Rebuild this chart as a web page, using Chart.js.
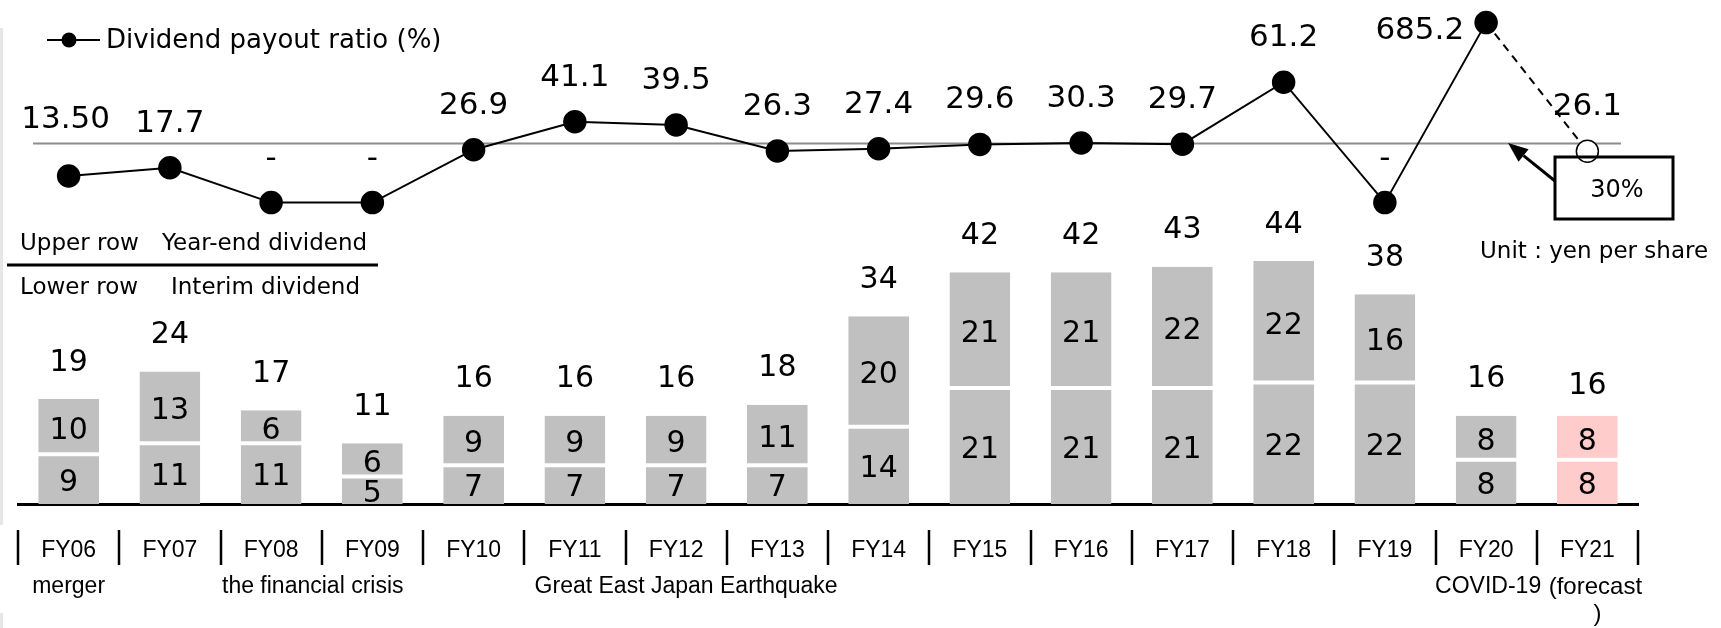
<!DOCTYPE html>
<html>
<head>
<meta charset="utf-8">
<script src="https://cdn.jsdelivr.net/npm/chart.js@4.4.0/dist/chart.umd.min.js"></script>
<style>
  html, body { margin: 0; padding: 0; background: #fff; }
</style>
</head>
<body>
<canvas id="chart" width="1721" height="628"></canvas>
<script>
const categories = ["FY06", "FY07", "FY08", "FY09", "FY10", "FY11", "FY12", "FY13",
  "FY14", "FY15", "FY16", "FY17", "FY18", "FY19", "FY20", "FY21"];
const interimDividend = [9, 11, 11, 5, 7, 7, 7, 7, 14, 21, 21, 21, 22, 22, 8, 8];
const yearEndDividend = [10, 13, 6, 6, 9, 9, 9, 11, 20, 21, 21, 22, 22, 16, 8, 8];
// null = no payout ratio ("-")
const payoutRatio = [13.5, 17.7, null, null, 26.9, 41.1, 39.5, 26.3, 27.4, 29.6, 30.3, 29.7, 61.2, null, 685.2, 26.1];
const payoutLabels = ["13.50", "17.7", "-", "-", "26.9", "41.1", "39.5", "26.3", "27.4", "29.6", "30.3", "29.7", "61.2", "-", "685.2", "26.1"];
const targetRatio = 30;
const ratioAxisBreak = 91.5; // broken axis: bigger values are drawn at this level

const GREY = "#c0c0c0";
const PINK = "#ffcccc";
const NUM_FONT = "DejaVu Sans";
const LABEL_FONT = "Liberation Sans";
const last = categories.length - 1;

const barColors = categories.map((c, i) => (i === last ? PINK : GREY));
const ratioPlot = payoutRatio.map(v => (v === null ? 0 : Math.min(v, ratioAxisBreak)));

const decorations = {
  id: "decorations",
  beforeDatasetsDraw(chart) {
    const ctx = chart.ctx;
    const yl = chart.scales.yLine;
    ctx.save();
    // faint slide edge
    ctx.fillStyle = "#e6e6e6";
    ctx.fillRect(0, 28, 3, 497);
    ctx.fillRect(0, 613, 3, 15);
    // 30% guide line
    const y30 = yl.getPixelForValue(targetRatio);
    ctx.strokeStyle = "#8c8c8c";
    ctx.lineWidth = 2;
    ctx.beginPath();
    ctx.moveTo(33, y30);
    ctx.lineTo(1621, y30);
    ctx.stroke();
    ctx.restore();
  },
  afterDatasetsDraw(chart) {
    const ctx = chart.ctx;
    const xs = chart.scales.x, yb = chart.scales.yBar, yl = chart.scales.yLine;
    const area = chart.chartArea;
    ctx.save();
    ctx.fillStyle = "#000";
    ctx.textAlign = "center";
    ctx.textBaseline = "middle";
    ctx.font = "30px " + NUM_FONT;

    // values inside the bar segments
    ctx.save();
    ctx.beginPath();
    ctx.rect(area.left, area.top, area.right - area.left, area.bottom - area.top);
    ctx.clip();
    categories.forEach((c, i) => {
      const x = xs.getPixelForValue(i);
      const lo = interimDividend[i], hi = yearEndDividend[i];
      ctx.fillText(String(lo), x, yb.getPixelForValue(lo / 2) + 4);
      ctx.fillText(String(hi), x, yb.getPixelForValue(lo + hi / 2) + 4);
    });
    ctx.restore();

    // annual totals
    categories.forEach((c, i) => {
      const total = interimDividend[i] + yearEndDividend[i];
      const off = i === last ? 29 : 36;
      ctx.fillText(String(total), xs.getPixelForValue(i), yb.getPixelForValue(total) - off);
    });

    // payout ratio labels
    ctx.font = "31px " + NUM_FONT;
    payoutLabels.forEach((t, i) => {
      const px = xs.getPixelForValue(i), py = yl.getPixelForValue(ratioPlot[i]);
      if (payoutRatio[i] !== null && payoutRatio[i] > ratioAxisBreak) {
        ctx.textAlign = "right";
        ctx.fillText(t, px - 22, py + 8);
        ctx.textAlign = "center";
      } else if (i === 0) {
        ctx.fillText(t, px - 3, py - 56);
      } else {
        ctx.fillText(t, px, py - 44);
      }
    });
    ctx.restore();
  },
  afterDraw(chart) {
    const ctx = chart.ctx;
    const xs = chart.scales.x;
    const at = i => xs.getPixelForValue(i);
    const half = (at(1) - at(0)) / 2;
    ctx.save();
    ctx.fillStyle = "#000";
    ctx.strokeStyle = "#000";

    // separators between the year labels
    ctx.lineWidth = 2.5;
    for (let i = 0; i <= categories.length; i++) {
      const x = Math.round(at(0) - half + i * half * 2);
      ctx.beginPath();
      ctx.moveTo(x, 530);
      ctx.lineTo(x, 565);
      ctx.stroke();
    }

    // event notes under the years
    ctx.font = "23px " + LABEL_FONT;
    ctx.textAlign = "center";
    ctx.textBaseline = "middle";
    ctx.fillText("merger", at(0), 587);
    ctx.fillText("the financial crisis", (at(2) + at(3)) / 2 - 9, 587);
    ctx.fillText("Great East Japan Earthquake", at(6) + 10, 587);
    ctx.fillText("COVID-19", at(14) + 2, 587);
    ctx.font = "24px " + LABEL_FONT;
    ctx.fillText("(forecast", at(15) + 8, 587);
    ctx.fillText(")", at(15) + 10, 614);

    // legend
    ctx.lineWidth = 2;
    ctx.beginPath();
    ctx.moveTo(47, 40);
    ctx.lineTo(100, 40);
    ctx.stroke();
    ctx.beginPath();
    ctx.arc(69, 40, 7.5, 0, Math.PI * 2);
    ctx.fill();
    ctx.textAlign = "left";
    ctx.font = "26px " + NUM_FONT;
    ctx.fillText("Dividend payout ratio (%)", 106, 41);

    // upper / lower row key
    ctx.font = "23px " + NUM_FONT;
    ctx.fillText("Upper row", 20, 244);
    ctx.fillText("Year-end dividend", 162, 244);
    ctx.fillText("Lower row", 20, 288);
    ctx.fillText("Interim dividend", 171, 288);
    ctx.lineWidth = 3;
    ctx.beginPath();
    ctx.moveTo(7, 265);
    ctx.lineTo(378, 265);
    ctx.stroke();

    // unit
    ctx.fillText("Unit : yen per share", 1480, 252);

    // 30% callout
    ctx.lineWidth = 3;
    ctx.strokeRect(1555, 157, 118, 62);
    ctx.textAlign = "center";
    ctx.font = "24px " + NUM_FONT;
    ctx.fillText("30%", 1617, 191);
    const sx = 1555, sy = 181, tx = 1508, ty = 143;
    const len = Math.hypot(tx - sx, ty - sy);
    const ux = (tx - sx) / len, uy = (ty - sy) / len;
    const hl = 20, hw = 8;
    const bx = tx - ux * hl, by = ty - uy * hl;
    ctx.beginPath();
    ctx.moveTo(sx, sy);
    ctx.lineTo(bx, by);
    ctx.stroke();
    ctx.beginPath();
    ctx.moveTo(tx, ty);
    ctx.lineTo(bx - uy * hw, by + ux * hw);
    ctx.lineTo(bx + uy * hw, by - ux * hw);
    ctx.closePath();
    ctx.fill();
    ctx.restore();
  }
};

const chart = new Chart(document.getElementById("chart").getContext("2d"), {
  type: "bar",
  data: {
    labels: categories,
    datasets: [
      {
        type: "line",
        label: "Dividend payout ratio (%)",
        data: ratioPlot,
        yAxisID: "yLine",
        order: 0,
        borderColor: "#000",
        borderWidth: 2,
        tension: 0,
        pointRadius: 11,
        pointHoverRadius: 11,
        pointBackgroundColor: categories.map((c, i) => (i === last ? "#fff" : "#000")),
        pointBorderColor: "#000",
        pointBorderWidth: 1.5,
        segment: {
          borderDash: ctx => (ctx.p1DataIndex === last ? [8, 6] : undefined)
        },
        clip: false
      },
      {
        label: "Interim dividend",
        data: interimDividend,
        yAxisID: "yBar",
        stack: "div",
        order: 1,
        backgroundColor: barColors,
        borderColor: "#fff",
        borderWidth: { top: 2, bottom: 0, left: 0, right: 0 },
        borderSkipped: false,
        barPercentage: 0.6,
        categoryPercentage: 1
      },
      {
        label: "Year-end dividend",
        data: yearEndDividend,
        yAxisID: "yBar",
        stack: "div",
        order: 1,
        backgroundColor: barColors,
        borderColor: "#fff",
        borderWidth: { top: 0, bottom: 2, left: 0, right: 0 },
        borderSkipped: false,
        barPercentage: 0.6,
        categoryPercentage: 1
      }
    ]
  },
  options: {
    responsive: false,
    animation: false,
    layout: { autoPadding: false, padding: { left: 18, right: 83, top: 0, bottom: 0 } },
    plugins: {
      legend: { display: false },
      tooltip: { enabled: false }
    },
    scales: {
      x: {
        stacked: true,
        grid: { display: true, drawOnChartArea: false, drawTicks: false },
        border: { display: true, color: "#000", width: 3 },
        ticks: {
          color: "#000",
          font: { family: LABEL_FONT, size: 23 },
          padding: 33,
          maxRotation: 0,
          autoSkip: false
        },
        afterFit(scale) { scale.height = 124; }
      },
      yBar: { display: false, stacked: true, min: 0, max: 91.3 },
      yLine: { display: false, min: -153.2, max: 103.0 }
    }
  },
  plugins: [decorations]
});
</script>
</body>
</html>
